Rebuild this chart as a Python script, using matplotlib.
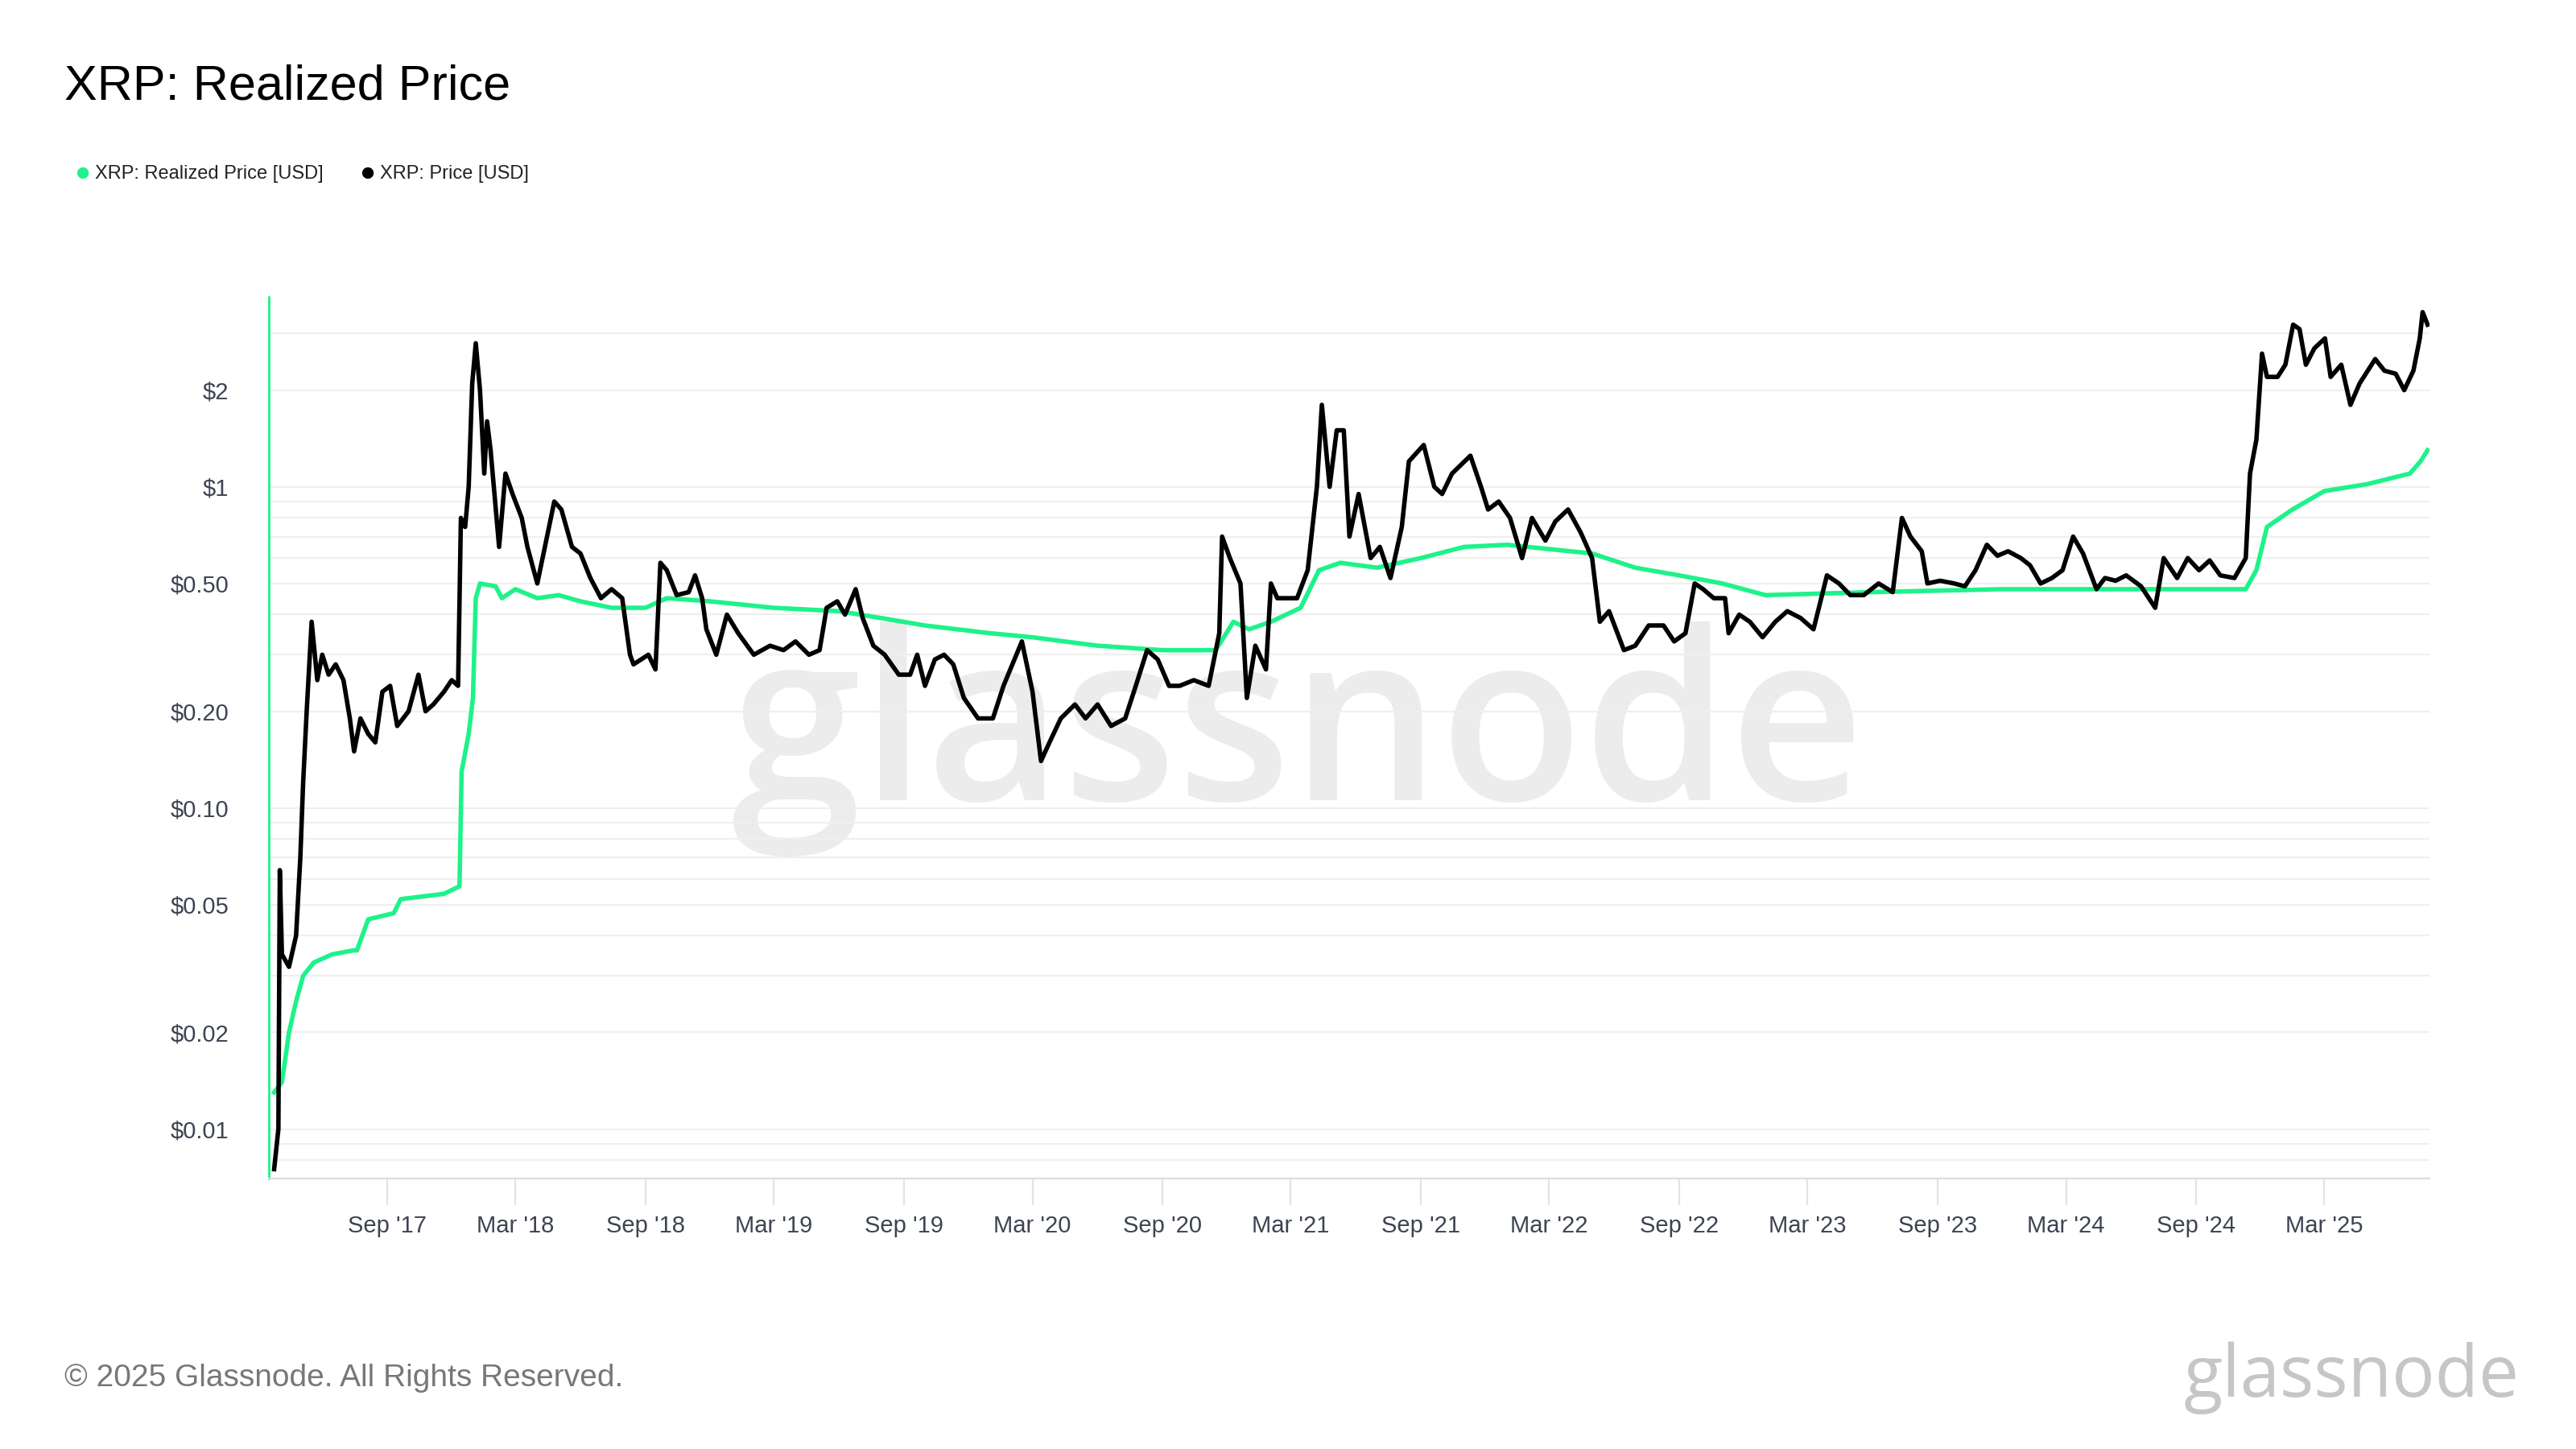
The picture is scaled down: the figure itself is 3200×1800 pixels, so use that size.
import numpy as np
import pandas as pd
import matplotlib.pyplot as plt
import matplotlib.ticker as mticker
import matplotlib.dates as mdates

# === Data ===
price_dates = [
    "2017-03-25", "2017-03-31", "2017-04-02", "2017-04-05", "2017-04-15", "2017-04-25", "2017-05-01",
    "2017-05-05", "2017-05-10", "2017-05-17", "2017-05-25", "2017-06-01", "2017-06-10", "2017-06-20",
    "2017-07-01", "2017-07-10", "2017-07-16", "2017-07-25", "2017-08-05", "2017-08-15", "2017-08-25",
    "2017-09-05", "2017-09-15", "2017-10-01", "2017-10-15", "2017-10-25", "2017-11-05", "2017-11-20",
    "2017-12-01", "2017-12-10", "2017-12-14", "2017-12-20", "2017-12-25", "2017-12-30", "2018-01-04",
    "2018-01-10", "2018-01-16", "2018-01-20", "2018-01-25", "2018-02-06", "2018-02-15", "2018-02-25",
    "2018-03-10", "2018-03-18", "2018-04-01", "2018-04-25", "2018-05-05", "2018-05-20", "2018-06-01",
    "2018-06-15", "2018-06-30", "2018-07-15", "2018-07-30", "2018-08-10", "2018-08-15", "2018-09-05",
    "2018-09-15", "2018-09-22", "2018-10-01", "2018-10-15", "2018-11-01", "2018-11-10", "2018-11-20",
    "2018-11-26", "2018-12-10", "2018-12-25", "2019-01-10", "2019-02-01", "2019-02-24", "2019-03-15",
    "2019-04-01", "2019-04-20", "2019-05-05", "2019-05-15", "2019-05-30", "2019-06-10", "2019-06-25",
    "2019-07-05", "2019-07-20", "2019-08-05", "2019-08-25", "2019-09-10", "2019-09-20", "2019-10-01",
    "2019-10-15", "2019-10-28", "2019-11-10", "2019-11-25", "2019-12-15", "2020-01-05", "2020-01-20",
    "2020-02-15", "2020-03-01", "2020-03-13", "2020-03-25", "2020-04-10", "2020-04-30", "2020-05-15",
    "2020-06-01", "2020-06-20", "2020-07-10", "2020-07-25", "2020-08-10", "2020-08-25", "2020-09-10",
    "2020-09-25", "2020-10-15", "2020-11-05", "2020-11-20", "2020-11-24", "2020-12-05", "2020-12-20",
    "2020-12-29", "2021-01-10", "2021-01-25", "2021-02-01", "2021-02-10", "2021-02-25", "2021-03-10",
    "2021-03-25", "2021-04-07", "2021-04-14", "2021-04-25", "2021-05-05", "2021-05-15", "2021-05-23",
    "2021-06-05", "2021-06-22", "2021-07-05", "2021-07-20", "2021-08-05", "2021-08-15", "2021-09-05",
    "2021-09-20", "2021-10-01", "2021-10-15", "2021-11-10", "2021-11-25", "2021-12-05", "2021-12-20",
    "2022-01-05", "2022-01-22", "2022-02-05", "2022-02-24", "2022-03-10", "2022-03-28", "2022-04-15",
    "2022-05-01", "2022-05-12", "2022-05-25", "2022-06-15", "2022-07-01", "2022-07-20", "2022-08-10",
    "2022-08-25", "2022-09-10", "2022-09-23", "2022-10-05", "2022-10-20", "2022-11-05", "2022-11-10",
    "2022-11-25", "2022-12-10", "2022-12-28", "2023-01-15", "2023-02-01", "2023-02-20", "2023-03-10",
    "2023-03-29", "2023-04-15", "2023-05-01", "2023-05-20", "2023-06-10", "2023-06-30", "2023-07-13",
    "2023-07-25", "2023-08-10", "2023-08-18", "2023-09-05", "2023-09-25", "2023-10-10", "2023-10-25",
    "2023-11-10", "2023-11-25", "2023-12-10", "2023-12-28", "2024-01-10", "2024-01-25", "2024-02-10",
    "2024-02-25", "2024-03-11", "2024-03-25", "2024-04-13", "2024-04-25", "2024-05-10", "2024-05-25",
    "2024-06-15", "2024-07-05", "2024-07-17", "2024-08-05", "2024-08-20", "2024-09-05", "2024-09-20",
    "2024-10-05", "2024-10-25", "2024-11-10", "2024-11-16", "2024-11-25", "2024-12-03", "2024-12-10",
    "2024-12-25", "2025-01-05", "2025-01-16", "2025-01-25", "2025-02-03", "2025-02-15", "2025-03-02",
    "2025-03-10", "2025-03-25", "2025-04-07", "2025-04-20", "2025-05-12", "2025-05-25", "2025-06-10",
    "2025-06-22", "2025-07-05", "2025-07-14", "2025-07-18", "2025-07-25",
]
price_usd = [
    0.0075, 0.010, 0.064, 0.035, 0.032, 0.040, 0.070,
    0.12, 0.20, 0.38, 0.25, 0.30, 0.26, 0.28,
    0.25, 0.19, 0.15, 0.19, 0.17, 0.16, 0.23,
    0.24, 0.18, 0.20, 0.26, 0.20, 0.21, 0.23,
    0.25, 0.24, 0.80, 0.75, 1.0, 2.1, 2.8,
    2.0, 1.1, 1.6, 1.3, 0.65, 1.1, 0.95,
    0.80, 0.65, 0.50, 0.90, 0.85, 0.65, 0.62,
    0.52, 0.45, 0.48, 0.45, 0.30, 0.28, 0.30,
    0.27, 0.58, 0.55, 0.46, 0.47, 0.53, 0.45,
    0.36, 0.30, 0.40, 0.35, 0.30, 0.32, 0.31,
    0.33, 0.30, 0.31, 0.42, 0.44, 0.40, 0.48,
    0.39, 0.32, 0.30, 0.26, 0.26, 0.30, 0.24,
    0.29, 0.30, 0.28, 0.22, 0.19, 0.19, 0.24,
    0.33, 0.23, 0.14, 0.16, 0.19, 0.21, 0.19,
    0.21, 0.18, 0.19, 0.24, 0.31, 0.29, 0.24,
    0.24, 0.25, 0.24, 0.35, 0.70, 0.60, 0.50,
    0.22, 0.32, 0.27, 0.50, 0.45, 0.45, 0.45,
    0.55, 1.0, 1.8, 1.0, 1.5, 1.5, 0.70,
    0.95, 0.60, 0.65, 0.52, 0.75, 1.2, 1.35,
    1.0, 0.95, 1.1, 1.25, 1.0, 0.85, 0.90,
    0.80, 0.60, 0.80, 0.68, 0.78, 0.85, 0.72,
    0.60, 0.38, 0.41, 0.31, 0.32, 0.37, 0.37,
    0.33, 0.35, 0.50, 0.48, 0.45, 0.45, 0.35,
    0.40, 0.38, 0.34, 0.38, 0.41, 0.39, 0.36,
    0.53, 0.50, 0.46, 0.46, 0.50, 0.47, 0.80,
    0.70, 0.63, 0.50, 0.51, 0.50, 0.49, 0.55,
    0.66, 0.61, 0.63, 0.60, 0.57, 0.50, 0.52,
    0.55, 0.70, 0.62, 0.48, 0.52, 0.51, 0.53,
    0.49, 0.42, 0.60, 0.52, 0.60, 0.55, 0.59,
    0.53, 0.52, 0.60, 1.1, 1.4, 2.6, 2.2,
    2.2, 2.4, 3.2, 3.1, 2.4, 2.7, 2.9,
    2.2, 2.4, 1.8, 2.1, 2.5, 2.3, 2.25,
    2.0, 2.3, 2.9, 3.5, 3.2,
]

realized_dates = [
    "2017-03-25", "2017-04-05", "2017-04-15", "2017-04-25", "2017-05-05", "2017-05-20", "2017-06-15",
    "2017-07-15", "2017-07-20", "2017-08-05", "2017-09-10", "2017-09-20", "2017-11-20", "2017-12-12",
    "2017-12-15", "2017-12-25", "2017-12-31", "2018-01-04", "2018-01-10", "2018-02-01", "2018-02-10",
    "2018-03-01", "2018-04-01", "2018-05-01", "2018-06-01", "2018-07-15", "2018-09-01", "2018-10-01",
    "2018-12-01", "2019-03-01", "2019-06-01", "2019-08-01", "2019-10-01", "2020-01-01", "2020-03-01",
    "2020-06-01", "2020-09-01", "2020-11-15", "2020-12-10", "2021-01-01", "2021-02-01", "2021-03-15",
    "2021-04-10", "2021-05-10", "2021-07-01", "2021-09-01", "2021-11-01", "2022-01-01", "2022-03-01",
    "2022-05-01", "2022-07-01", "2022-09-01", "2022-11-01", "2023-01-01", "2023-06-01", "2023-12-01",
    "2024-06-01", "2024-11-10", "2024-11-25", "2024-12-10", "2025-01-15", "2025-03-01", "2025-05-01",
    "2025-06-30", "2025-07-15", "2025-07-25",
]
realized_usd = [
    0.013, 0.014, 0.020, 0.025, 0.030, 0.033, 0.035,
    0.036, 0.036, 0.045, 0.047, 0.052, 0.054, 0.057,
    0.13, 0.17, 0.22, 0.45, 0.50, 0.49, 0.45,
    0.48, 0.45, 0.46, 0.44, 0.42, 0.42, 0.45,
    0.44, 0.42, 0.41, 0.39, 0.37, 0.35, 0.34,
    0.32, 0.31, 0.31, 0.38, 0.36, 0.38, 0.42,
    0.55, 0.58, 0.56, 0.60, 0.65, 0.66, 0.64,
    0.62, 0.56, 0.53, 0.50, 0.46, 0.47, 0.48,
    0.48, 0.48, 0.55, 0.75, 0.85, 0.97, 1.02,
    1.10, 1.20, 1.30,
]

y_ticks = [0.01, 0.02, 0.05, 0.10, 0.20, 0.50, 1, 2]
y_tick_labels = ["$0.01", "$0.02", "$0.05", "$0.10", "$0.20", "$0.50", "$1", "$2"]

GREEN = "#1ef28a"
TEXT = "#3d4451"

plt.rcParams["font.family"] = ["Liberation Sans", "DejaVu Sans"]

fig = plt.figure(figsize=(16, 9), dpi=200)
ax = fig.add_axes([0.1045, 0.1865, 0.8387, 0.6085])
ax.patch.set_alpha(0)

pd_price = pd.to_datetime(price_dates)
pd_real = pd.to_datetime(realized_dates)

ax.plot(pd_real, realized_usd, color=GREEN, lw=2.0, zorder=3)
ax.plot(pd_price, price_usd, color="black", lw=2.0, zorder=4)

ax.set_yscale("log")
ax.set_ylim(0.0070, 3.9)
ax.set_xlim(pd.Timestamp("2017-03-18"), pd.Timestamp("2025-07-28"))
ax.yaxis.set_major_locator(mticker.FixedLocator(y_ticks))
ax.yaxis.set_major_formatter(mticker.FixedFormatter(y_tick_labels))
ax.yaxis.set_minor_locator(mticker.LogLocator(base=10, subs=np.arange(1, 10)))
ax.yaxis.set_minor_formatter(mticker.NullFormatter())
ax.grid(True, which="both", axis="y", color="#efefef", lw=0.8, zorder=0)
ax.tick_params(axis="y", which="both", length=0, labelsize=10.5, labelcolor=TEXT, pad=18)

x_ticks = pd.date_range("2017-09-01", "2025-03-01", freq="6MS")
ax.set_xticks(x_ticks)
ax.xaxis.set_major_formatter(mdates.DateFormatter("%b '%y"))
ax.tick_params(axis="x", length=12, width=0.8, color="#e3e3e3", labelsize=10.5, labelcolor=TEXT, pad=4)

for side in ["top", "right"]:
    ax.spines[side].set_visible(False)
ax.spines["left"].set_color(GREEN)
ax.spines["left"].set_linewidth(1.0)
ax.spines["bottom"].set_color("#dddddd")

# watermark behind the lines
ax.text(0.504, 0.49, "glassnode", fontsize=105, color="#ececec", ha="center", va="center",
        family="Open Sans", fontweight="semibold", transform=fig.transFigure, zorder=1)

fig.text(0.025, 0.94, "XRP: Realized Price", fontsize=22, color="black", va="center")
fig.text(0.025, 0.049, "\u00a9 2025 Glassnode. All Rights Reserved.", fontsize=14, color="#777777", va="center")
fig.text(0.978, 0.049, "glassnode", fontsize=32, color="#c6c6c6", ha="right", va="center", family="Open Sans")

# legend
fig.text(0.032, 0.880, "\u25cf", fontsize=12, color=GREEN, va="center", ha="center")
fig.text(0.037, 0.880, "XRP: Realized Price [USD]", fontsize=8.5, color="#222222", va="center")
fig.text(0.1425, 0.880, "\u25cf", fontsize=12, color="black", va="center", ha="center")
fig.text(0.1475, 0.880, "XRP: Price [USD]", fontsize=8.5, color="#222222", va="center")

fig.savefig("out.png", dpi=200)
